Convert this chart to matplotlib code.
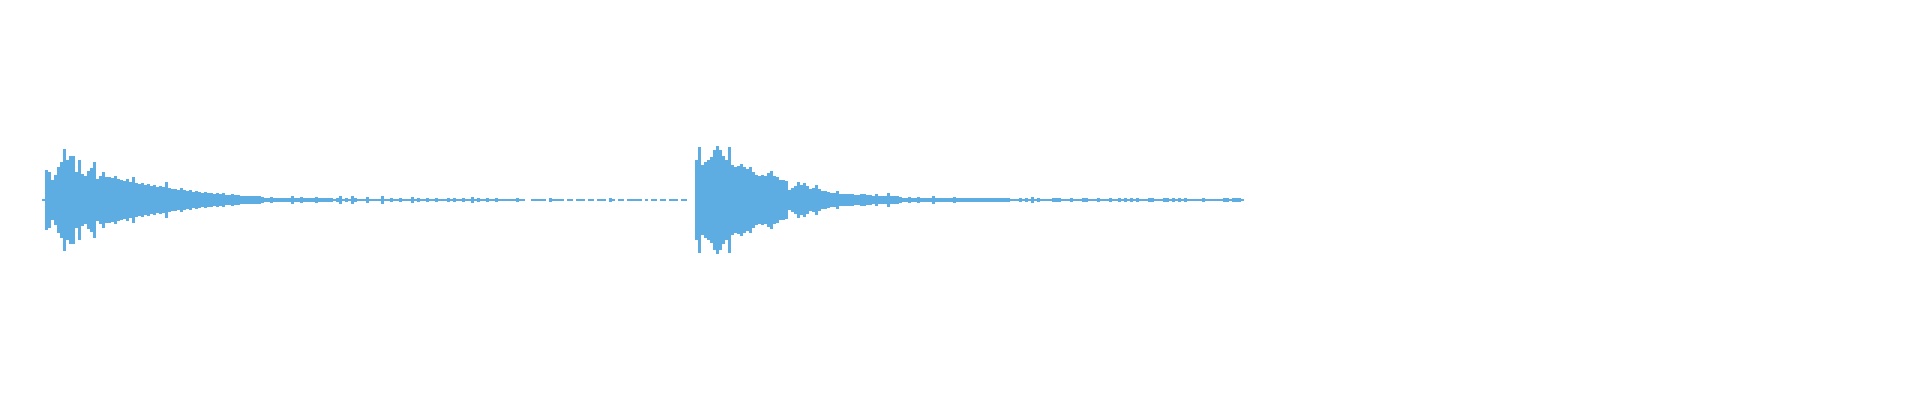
import matplotlib
matplotlib.use("Agg")
import matplotlib.pyplot as plt
import numpy as np

# peak amplitude (% of full scale) per 0.06 s window
step = 0.06
clip1_start = 0.0
clip1_peak = [
    0.5, 15, 14, 10, 12.5, 16.5, 19, 25.5, 20, 22, 22, 14, 20, 13, 12, 14.5, 16, 19, 10.5, 12,
    14, 11.5, 11.5, 11, 12, 10.5, 10, 9.5, 10.5, 9, 11.5, 8.5, 8, 8.5, 7.5, 8, 7, 7.5, 6.5, 7,
    6.5, 9, 6, 5.5, 5.5, 5, 6, 5, 4.5, 5, 4, 4.5, 4, 3.5, 4, 3.5, 3.5, 3, 3.5, 3,
    3.3, 2.5, 2.5, 3, 2.5, 2.5, 2, 2.2, 2, 1.8, 2, 1.8, 2, 1.5, 1.2, 1.2, 1.5, 1.2, 1, 1.2,
    1.2, 1, 1.2, 2.2, 1, 1, 1.5, 1, 0.8, 1, 1.2, 1.5, 0.8, 1, 0.8, 0.8, 0.8, 0.5, 0.8, 1.8,
    0.5, 0.8, 0.5, 2, 0.8, 0.5, 0.5, 0.5, 1.5, 0.5, 0.5, 0.5, 0.5, 2, 0.5, 0.5, 1, 0.5, 0.5, 1,
    0.5, 0.5, 0.5, 1.5, 0.5, 1, 0.3, 0.3, 0.8, 0.3, 0.3, 1, 0.5, 0.3, 0.3, 1, 0.3, 1, 0.3, 0.3,
    1, 0.3, 0.3, 1.5, 0.3, 0.8, 0.3, 0.3, 0.8, 0.3, 0.3, 1, 0.3, 0.3, 0.3, 0.3, 0.3, 0.3, 0.8, 0.3,
    0.3, 0, 0, 0.3, 0.3, 0.3, 0.3, 0.3, 0, 1, 0.3, 0.3, 0.3, 0.3, 0, 0.3, 0.3, 0, 0.3, 0.3,
    0.3, 0, 0.3, 0.3, 0, 0.3, 0.3, 0.3, 0, 0.8, 0.3, 0, 0.3, 0.3, 0, 0.3, 0.3, 0.3, 0.3, 0.3,
    0, 0.3, 0, 0.3, 0.3, 0, 0.3, 0.3, 0, 0.3, 0.3, 0.3, 0, 0.3, 0.3,
]
clip2_start = 13.06
clip2_peak = [
    20, 26.5, 17.5, 19, 20, 21.5, 25, 27, 25, 22, 20, 26.5, 17.5, 16.5, 17, 18, 16.5, 15.5, 16.5, 14,
    12.5, 12, 12.5, 12, 13.5, 14.5, 12, 11.5, 10, 10, 9.5, 5, 6, 7, 9, 7.5, 8.5, 7, 5.5, 6,
    7.5, 5.5, 4.5, 4.5, 4, 3.5, 3.5, 4.5, 3, 3, 3, 2.8, 3, 2.5, 2.5, 3, 2.8, 2.5, 2.5, 2.2,
    2.8, 2, 2, 2.2, 3.3, 2, 1.8, 2, 1.5, 1.2, 1.2, 1.5, 1.2, 1.2, 1.5, 1, 1.2, 1, 1, 2.2,
    1, 1, 1.2, 1, 0.8, 1, 1.5, 0.8, 1, 1.2, 0.8, 0.8, 1.2, 0.8, 0.8, 0.8, 1.2, 0.8, 0.8, 0.8,
    1.2, 0.8, 0.8, 0.8, 1, 0.5, 0.5, 0.5, 1, 0.5, 1, 0.5, 1.5, 0.5, 1, 0.5, 0.5, 0.5, 0.5, 1.2,
    1, 1, 0.3, 0.3, 0.3, 1.2, 0.3, 0.3, 0.3, 1, 1, 0.3, 0.3, 0.3, 1, 0.3, 0.3, 0.3, 1, 0.3,
    0.3, 1, 0.3, 1, 0.3, 1, 0.3, 1.2, 0.3, 0.3, 0.3, 1, 1, 0.3, 0.3, 0.3, 1, 1, 0.3, 1,
    0.3, 1, 0.3, 1, 0.3, 0.3, 0.3, 0.3, 0.3, 1, 0.3, 0.3, 0.3, 0.3, 0.3, 0.3, 1.2, 1, 0.3, 1,
    1, 1, 0.3,
]

color = "#5dade2"

fig = plt.figure(figsize=(19.2, 4), dpi=100)
ax = fig.add_axes([0, 0, 1, 1])

for start, peak in [(clip1_start, clip1_peak), (clip2_start, clip2_peak)]:
    peak = np.array(peak)
    t = start + step * np.arange(len(peak))
    ax.bar(t, 2 * peak, bottom=-peak, width=step, align="edge",
           color=color, linewidth=0, antialiased=False)

ax.set_xlim(-0.84, 37.56)
ax.set_ylim(-100, 100)
ax.axis("off")

fig.savefig("out.png", dpi=100, facecolor="white")
